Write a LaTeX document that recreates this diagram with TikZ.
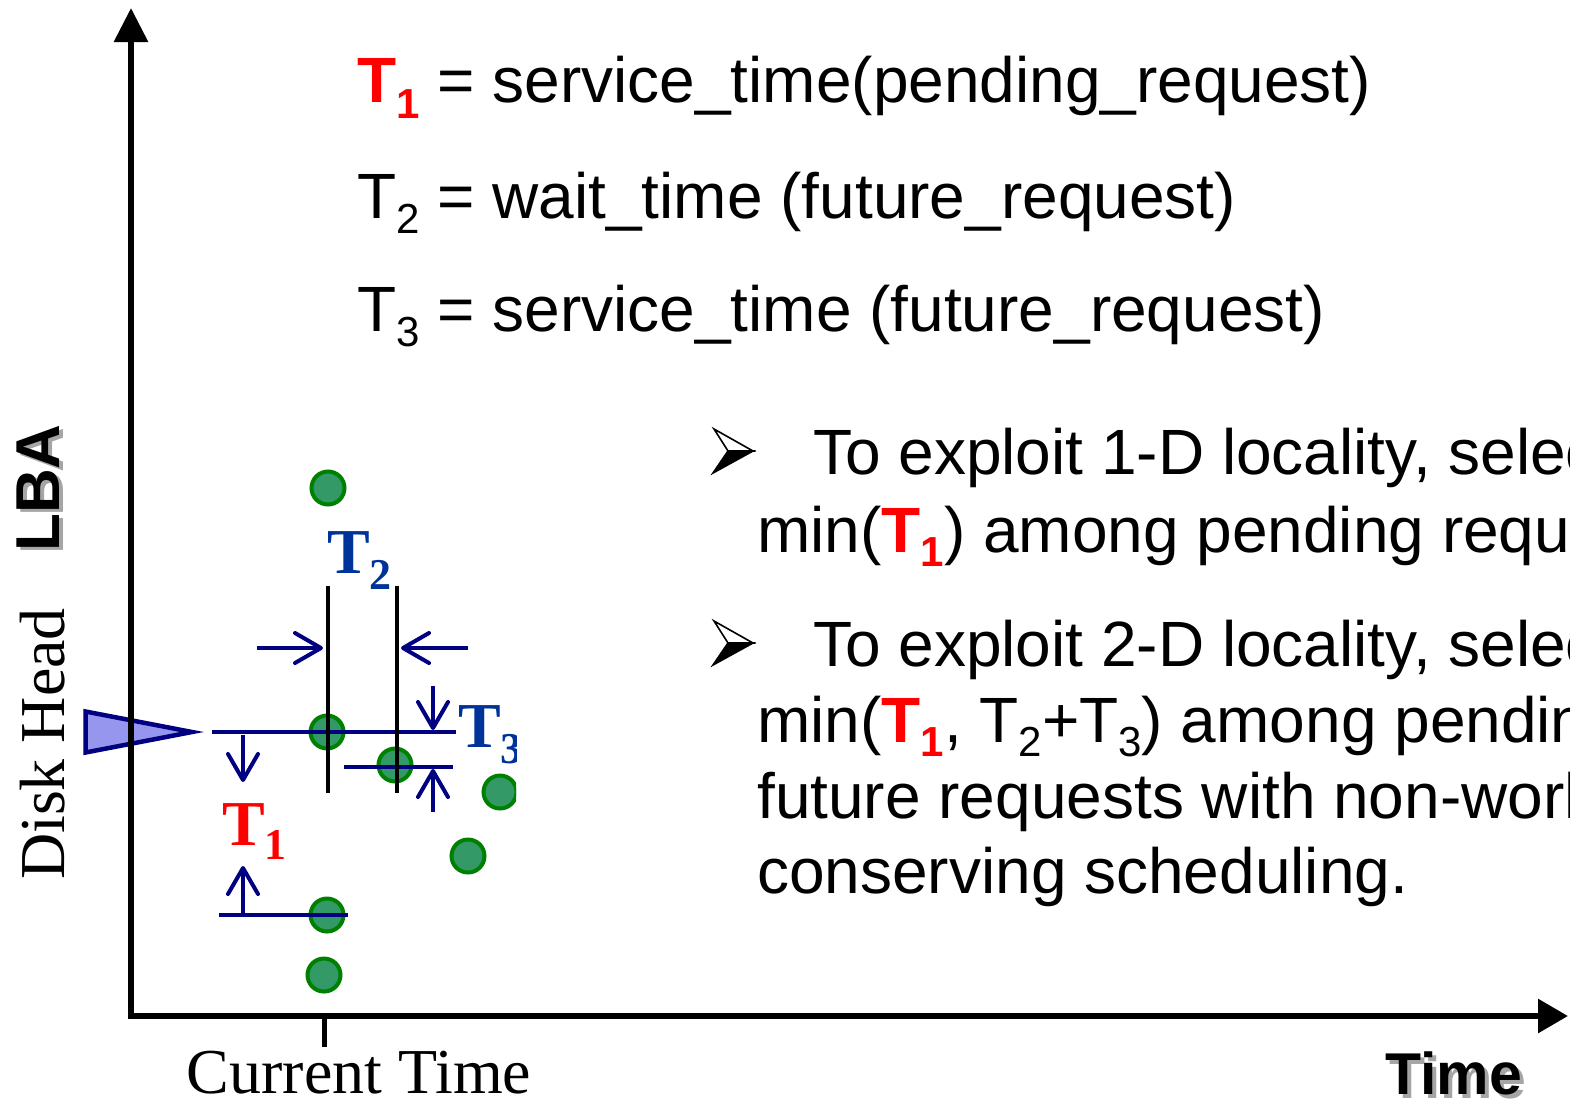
\documentclass[tikz,border=0pt]{standalone}
\usepackage{fontspec}
\setmainfont{Liberation Serif}
\setsansfont{Liberation Sans}
\usetikzlibrary{arrows.meta}

\definecolor{headnavy}{RGB}{0,0,128}
\definecolor{labelblue}{RGB}{0,51,153}
\definecolor{dotgreen}{RGB}{0,128,0}
\definecolor{dotfill}{RGB}{51,153,102}
\definecolor{headfill}{RGB}{150,150,238}
\definecolor{shadowgray}{RGB}{165,165,165}

\newcommand{\pxsize}[1]{\fontsize{#1}{#1}\selectfont}

\tikzset{
  bulletmark/.pic={
    \filldraw[fill=white, draw=black, line width=1.6pt, line join=miter] (-39,-22) -- (0,0) -- (-25,0) -- cycle;
    \filldraw[black, line width=1.6pt, line join=miter] (-25,0) -- (0,0) -- (-40,22) -- cycle;
  }
}

\begin{document}
\begin{tikzpicture}[x=1pt, y=-1pt,
  axis/.style={line width=6pt, black},
  navyline/.style={line width=4pt, headnavy},
  barb/.style={navyline, -{Straight Barb[length=26pt, width=30pt, round]}},
  guide/.style={line width=4pt, black},
  req/.style={circle, draw=dotgreen, fill=dotfill, line width=4pt, minimum size=33pt, inner sep=0pt},
  textline/.style={anchor=base west, inner sep=0pt, font=\sffamily\pxsize{64}},
  tlabel/.style={anchor=base west, inner sep=0pt, font=\rmfamily\bfseries\pxsize{64}},
]
\useasboundingbox (0,0) rectangle (1570,1100);
\clip (0,0) rectangle (1570,1100);

% definitions of T1, T2, T3
\node[textline] (eq1) at (357,102) {{\bfseries\color{red}T\raisebox{-16pt}{\pxsize{42}1}} = service\_time(pending\_request)};
\node[textline] (eq2) at (357,218) {T\raisebox{-15pt}{\pxsize{42}2} = wait\_time (future\_request)};
\node[textline] (eq3) at (357,331) {T\raisebox{-15pt}{\pxsize{42}3} = service\_time (future\_request)};

% bullet points
\pic at (753,451) {bulletmark};
\node[textline] (b1a) at (813,474) {To exploit 1-D locality, select};
\node[textline] (b1b) at (757,552) {min({\bfseries\color{red}T\raisebox{-14pt}{\pxsize{42}1}}) among pending requests};
\pic at (753,643) {bulletmark};
\node[textline] (b2a) at (813,666) {To exploit 2-D locality, select};
\node[textline] (b2b) at (757,742) {min({\bfseries\color{red}T\raisebox{-14pt}{\pxsize{42}1}}, T\raisebox{-14pt}{\pxsize{42}2}+T\raisebox{-14pt}{\pxsize{42}3}) among pending};
\node[textline] (b2c) at (757,818) {future requests with non-work-};
\node[textline] (b2d) at (757,893) {conserving scheduling.};

% disk head marker
\filldraw[fill=headfill, draw=headnavy, line width=4.5pt, line join=miter] (85.5,711.5) -- (192,732) -- (85.5,752.5) -- cycle;

% axes
\coordinate (origin) at (131,1016);
\coordinate (ytip) at (131,8);
\coordinate (xstart) at (128,1016);
\coordinate (xtip) at (1568,1016);
\draw[axis, -{Triangle[length=34pt, width=33pt]}] (origin) -- (ytip);
\draw[axis, -{Triangle[length=30pt, width=33pt]}] (xstart) -- (xtip);
\coordinate (ticktop) at (324,1016);
\coordinate (tickbot) at (324,1047);
\draw[black, line width=5pt] (ticktop) -- (tickbot);

% axis labels
\node[anchor=base, inner sep=0pt, font=\rmfamily\pxsize{64}] (curtime) at (359,1093) {Current Time};
\node[anchor=base west, inner sep=0pt, font=\sffamily\bfseries\pxsize{59}, text=shadowgray] at (1389,1098) {Time};
\node[anchor=base west, inner sep=0pt, font=\sffamily\bfseries\pxsize{59}] (timelabel) at (1385,1094) {Time};
\node[rotate=90, anchor=base, inner sep=0pt, font=\sffamily\bfseries\pxsize{62}, text=shadowgray] at (63,491) {LBA};
\node[rotate=90, anchor=base, inner sep=0pt, font=\sffamily\bfseries\pxsize{62}] (lba) at (59,488) {LBA};
\node[rotate=90, anchor=base, inner sep=0pt, font=\rmfamily\pxsize{64}] (diskhead) at (64,744) {Disk Head};

% requests
\node[req] (d1) at (328,488) {};
\node[req] (d2) at (327,732) {};
\node[req] (d3) at (395,765) {};
\node[req] (d5) at (468,856) {};
\node[req] (d6) at (327,915) {};
\node[req] (d7) at (324,975) {};
\begin{scope}
  \clip (0,0) rectangle (516,1100);
  \node[req] (d4) at (500,792) {};
  \node[tlabel, text=labelblue] (t3) at (458,747) {T\raisebox{-16pt}{\pxsize{44}3}};
\end{scope}

% head position and request levels
\coordinate (headline0) at (212,732);
\coordinate (headline1) at (456,732);
\draw[navyline] (headline0) -- (headline1);
\coordinate (lowline0) at (219,915);
\draw[navyline] (lowline0) -- (d6.center) -- ++(21,0);
\coordinate (midline0) at (344,767);
\coordinate (midline1) at (453,767);
\draw[navyline] (midline0) -- (midline1);

% time guides
\coordinate (g1top) at (328,586);
\coordinate (g1bot) at (328,793);
\coordinate (g2top) at (397,586);
\coordinate (g2bot) at (397,793);
\draw[guide] (g1top) -- (g1bot);
\draw[guide] (g2top) -- (g2bot);

% dimension arrows
\draw[barb] (243,735) -- (243,782);
\draw[barb] (243,913) -- (243,866);
\draw[barb] (257,648) -- (323,648);
\draw[barb] (468,648) -- (401,648);
\draw[barb] (433,686) -- (433,730);
\draw[barb] (433,812) -- (433,769);

% dimension labels
\node[tlabel, text=red] (t1) at (222,845) {T\raisebox{-14pt}{\pxsize{44}1}};
\node[tlabel, text=labelblue] (t2) at (327,573) {T\raisebox{-16pt}{\pxsize{44}2}};
\end{tikzpicture}
\end{document}
